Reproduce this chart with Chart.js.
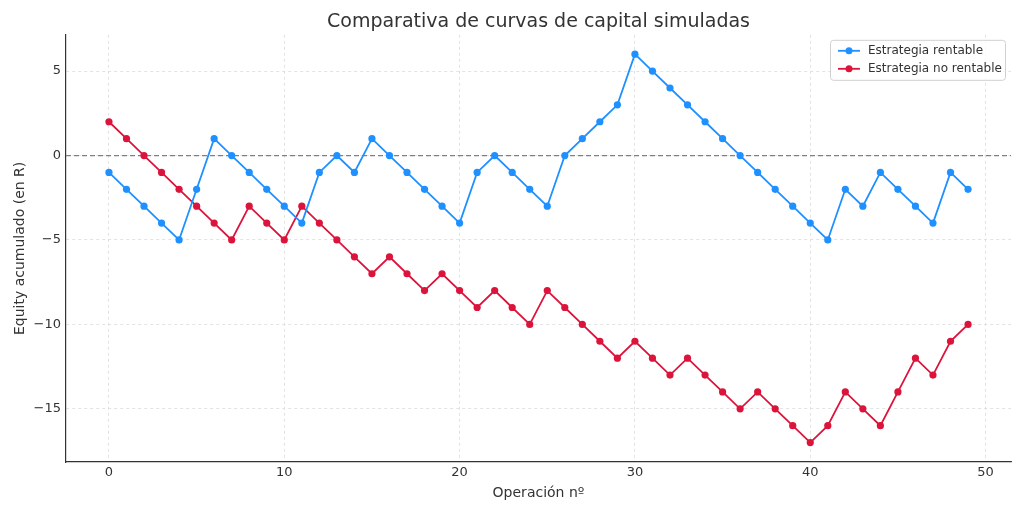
<!DOCTYPE html>
<html>
<head>
<meta charset="utf-8">
<script src="https://cdn.jsdelivr.net/npm/chart.js@4"></script>
<style>
  html, body { margin: 0; padding: 0; background: #fff; }
  #wrap { width: 1024px; height: 512px; }
</style>
</head>
<body>
<div id="wrap"><canvas id="equityChart" width="1024" height="512"></canvas></div>
<script>
// Datos
const operaciones = Array.from({ length: 50 }, (_, i) => i);
const rentable = [-1, -2, -3, -4, -5, -2, 1, 0, -1, -2, -3, -4, -1, 0, -1, 1, 0, -1, -2, -3,
                  -4, -1, 0, -1, -2, -3, 0, 1, 2, 3, 6, 5, 4, 3, 2, 1, 0, -1, -2, -3,
                  -4, -5, -2, -3, -1, -2, -3, -4, -1, -2];
const noRentable = [2, 1, 0, -1, -2, -3, -4, -5, -3, -4, -5, -3, -4, -5, -6, -7, -6, -7, -8, -7,
                    -8, -9, -8, -9, -10, -8, -9, -10, -11, -12, -11, -12, -13, -12, -13, -14, -15, -14, -15, -16,
                    -17, -16, -14, -15, -16, -14, -12, -13, -11, -10];
const xTicks = [0, 10, 20, 30, 40, 50];
const yTicks = [-15, -10, -5, 0, 5];
const seriesLabels = ["Estrategia rentable", "Estrategia no rentable"];
const seriesColors = ["#1E90FF", "#DC143C"];

const FONT = "'DejaVu Sans', sans-serif";
Chart.defaults.font.family = FONT;
Chart.defaults.color = "#333";

function toPoints(values) {
    return operaciones.map((x, i) => ({ x: x, y: values[i] }));
}

// Línea discontinua en y = 0
const zeroLine = {
    id: "zeroLine",
    beforeDatasetsDraw(chart) {
        const { ctx, chartArea, scales } = chart;
        const y = scales.y.getPixelForValue(0);
        ctx.save();
        ctx.strokeStyle = "#808080";
        ctx.lineWidth = 1.2;
        ctx.setLineDash([5, 3]);
        ctx.beginPath();
        ctx.moveTo(chartArea.left, y);
        ctx.lineTo(chartArea.right, y);
        ctx.stroke();
        ctx.restore();
    }
};

// Leyenda dentro del área del gráfico (esquina superior derecha)
const insideLegend = {
    id: "insideLegend",
    afterDraw(chart) {
        const { ctx, chartArea } = chart;
        const boxW = 175, boxH = 40;
        const bx = chartArea.right - boxW - 6;
        const by = chartArea.top + 5;
        ctx.save();
        ctx.fillStyle = "rgba(255,255,255,0.8)";
        ctx.strokeStyle = "#d0d0d0";
        ctx.lineWidth = 1;
        ctx.beginPath();
        ctx.roundRect(bx + 0.5, by + 0.5, boxW, boxH, 3);
        ctx.fill();
        ctx.stroke();
        ctx.font = "12px " + FONT;
        ctx.textBaseline = "middle";
        chart.data.datasets.forEach((ds, i) => {
            const y = by + 11 + i * 18;
            ctx.strokeStyle = ds.borderColor;
            ctx.lineWidth = 1.8;
            ctx.setLineDash([]);
            ctx.beginPath();
            ctx.moveTo(bx + 8, y);
            ctx.lineTo(bx + 30, y);
            ctx.stroke();
            ctx.fillStyle = ds.borderColor;
            ctx.beginPath();
            ctx.arc(bx + 19, y, 3.5, 0, Math.PI * 2);
            ctx.fill();
            ctx.fillStyle = "#333";
            ctx.fillText(ds.label, bx + 38, y);
        });
        ctx.restore();
    }
};

const minus = v => String(v).replace("-", "\u2212");

new Chart(document.getElementById("equityChart"), {
    type: "line",
    data: {
        datasets: [
            {
                label: seriesLabels[0],
                data: toPoints(rentable),
                borderColor: seriesColors[0],
                backgroundColor: seriesColors[0],
                borderWidth: 1.8,
                pointRadius: 3.6,
                pointBorderWidth: 0,
                tension: 0
            },
            {
                label: seriesLabels[1],
                data: toPoints(noRentable),
                borderColor: seriesColors[1],
                backgroundColor: seriesColors[1],
                borderWidth: 1.8,
                pointRadius: 3.6,
                pointBorderWidth: 0,
                tension: 0
            }
        ]
    },
    options: {
        responsive: false,
        animation: false,
        layout: { padding: { left: 0, right: 13, top: 0, bottom: 0 } },
        scales: {
            x: {
                type: "linear",
                min: -2.45,
                max: 51.45,
                afterBuildTicks: axis => { axis.ticks = xTicks.map(v => ({ value: v })); },
                afterFit: axis => { axis.height = 50; },
                ticks: { font: { size: 13 }, color: "#333", padding: 3, callback: minus },
                grid: {
                    color: "#dcdcdc",
                    lineWidth: 0.8,
                    drawTicks: false
                },
                border: { display: true, color: "#333", width: 1.2, dash: [3, 3] },
                title: {
                    display: true,
                    text: "Operación nº",
                    font: { size: 14 },
                    color: "#333",
                    padding: { top: 3, bottom: 10 }
                }
            },
            y: {
                min: -18.15,
                max: 7.15,
                afterBuildTicks: axis => { axis.ticks = yTicks.map(v => ({ value: v })); },
                afterFit: axis => { axis.width = 66; },
                ticks: { font: { size: 13 }, color: "#333", padding: 5, callback: minus },
                grid: {
                    color: "#dcdcdc",
                    lineWidth: 0.8,
                    drawTicks: false
                },
                border: { display: true, color: "#333", width: 1.2, dash: [3, 3] },
                title: {
                    display: true,
                    text: "Equity acumulado (en R)",
                    font: { size: 14 },
                    color: "#333",
                    padding: { top: 12, bottom: 0 }
                }
            }
        },
        plugins: {
            legend: { display: false },
            tooltip: { enabled: false },
            title: {
                display: true,
                text: "Comparativa de curvas de capital simuladas",
                fullSize: false,
                font: { size: 19, weight: "normal" },
                color: "#333",
                padding: { top: 11, bottom: 1 }
            }
        }
    },
    plugins: [zeroLine, insideLegend]
});
</script>
</body>
</html>
